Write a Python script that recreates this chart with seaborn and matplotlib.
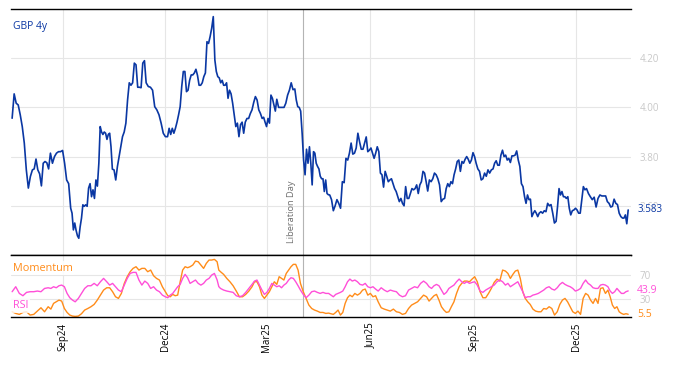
import matplotlib
matplotlib.use("Agg")
import matplotlib.pyplot as plt
import matplotlib.dates as mdates
import seaborn as sns
import pandas as pd

sns.set_style("white")
plt.rcParams["font.family"] = ["Open Sans", "DejaVu Sans"]

# GBP 4y swap rate; each row starts on the date in gbp_row_start
gbp_row_start = [
    "2024-07-18", "2024-08-05", "2024-08-21", "2024-09-08", "2024-09-20",
    "2024-10-03", "2024-10-15", "2024-10-30", "2024-11-14", "2024-12-03",
    "2024-12-17", "2024-12-31", "2025-01-14", "2025-01-27", "2025-02-10",
    "2025-02-25", "2025-03-10", "2025-03-26", "2025-04-08", "2025-04-20",
    "2025-04-26", "2025-05-12", "2025-05-27", "2025-06-10", "2025-06-24",
    "2025-07-08", "2025-07-22", "2025-08-06", "2025-08-20", "2025-09-03",
    "2025-09-18", "2025-10-02", "2025-10-16", "2025-10-29", "2025-11-13",
    "2025-11-26", "2025-12-10", "2025-12-27", "2026-01-11",
]
gbp_end = "2026-01-16"
gbp_rows = [
    [3.956, 4.055, 4.017, 4.01, 3.97, 3.922, 3.855, 3.746, 3.672, 3.719],
    [3.746, 3.75, 3.79, 3.746, 3.73, 3.681, 3.773, 3.78, 3.775, 3.75],
    [3.814, 3.773, 3.80, 3.814, 3.82, 3.82, 3.825, 3.773, 3.705, 3.69],
    [3.59, 3.57, 3.502, 3.53, 3.50, 3.478, 3.468, 3.515, 3.55, 3.604],
    [3.598, 3.604, 3.598, 3.672, 3.69, 3.637, 3.665, 3.63, 3.705, 3.68],
    [3.773, 3.922, 3.90, 3.89, 3.90, 3.895, 3.87, 3.89, 3.895, 3.84],
    [3.749, 3.746, 3.705, 3.76, 3.80, 3.84, 3.881, 3.90, 3.936, 4.03],
    [4.10, 4.09, 4.10, 4.18, 4.173, 4.082, 4.082, 4.08, 4.18, 4.19],
    [4.10, 4.085, 4.082, 4.07, 4.003, 3.99, 3.97, 3.936, 3.895, 3.881],
    [3.881, 3.915, 3.89, 3.915, 3.895, 3.915, 3.94, 3.97, 4.003, 4.085],
    [4.146, 4.146, 4.064, 4.07, 4.11, 4.132, 4.132, 4.14, 4.155, 4.13],
    [4.09, 4.09, 4.10, 4.125, 4.14, 4.267, 4.26, 4.288, 4.322, 4.369],
    [4.193, 4.146, 4.125, 4.12, 4.10, 4.11, 4.09, 4.09, 4.10, 4.037],
    [4.07, 4.055, 4.017, 3.97, 3.922, 3.936, 3.881, 3.93, 3.94, 3.895],
    [3.94, 3.955, 3.955, 3.975, 3.99, 4.02, 4.044, 4.03, 3.99, 3.975],
    [3.955, 3.96, 3.94, 3.922, 3.955, 3.936, 4.05, 4.037, 4.01, 3.985],
    [4.033, 4.00, 4.00, 4.00, 4.00, 4.017, 4.05, 4.07, 4.10, 4.072],
    [4.075, 4.03, 4.003, 4.00, 3.985, 3.895, 3.786, 3.726, 3.83, 3.773],
    [3.84, 3.773, 3.685, 3.82, 3.814, 3.773, 3.76, 3.75, 3.72, 3.71],
    [3.71, 3.658, 3.705, 3.65, 3.645],
    [3.644, 3.625, 3.58, 3.60, 3.625, 3.61, 3.59, 3.698, 3.694, 3.793],
    [3.786, 3.814, 3.855, 3.81, 3.814, 3.835, 3.895, 3.86, 3.83, 3.83],
    [3.855, 3.88, 3.82, 3.826, 3.835, 3.814, 3.793, 3.814, 3.84, 3.82],
    [3.733, 3.726, 3.676, 3.74, 3.72, 3.698, 3.705, 3.71, 3.69, 3.67],
    [3.658, 3.637, 3.617, 3.63, 3.61, 3.60, 3.678, 3.63, 3.63, 3.65],
    [3.67, 3.665, 3.67, 3.685, 3.65, 3.685, 3.698, 3.74, 3.733, 3.698],
    [3.66, 3.705, 3.698, 3.71, 3.733, 3.726, 3.71, 3.685, 3.617, 3.627],
    [3.63, 3.67, 3.69, 3.678, 3.698, 3.69, 3.726, 3.75, 3.78, 3.786],
    [3.74, 3.78, 3.773, 3.789, 3.80, 3.789, 3.773, 3.786, 3.816, 3.80],
    [3.773, 3.75, 3.74, 3.705, 3.71, 3.733, 3.72, 3.746, 3.733, 3.746],
    [3.75, 3.773, 3.783, 3.765, 3.765, 3.806, 3.826, 3.80, 3.806, 3.786],
    [3.793, 3.776, 3.803, 3.803, 3.806, 3.823, 3.786, 3.76, 3.69, 3.678],
    [3.637, 3.61, 3.644, 3.625, 3.627, 3.556, 3.57, 3.58, 3.57, 3.556],
    [3.57, 3.576, 3.57, 3.58, 3.576, 3.61, 3.60, 3.605, 3.57, 3.53],
    [3.537, 3.598, 3.67, 3.644, 3.658, 3.637, 3.637, 3.63, 3.637, 3.59],
    [3.563, 3.58, 3.583, 3.59, 3.583, 3.57, 3.57, 3.625, 3.678, 3.665],
    [3.67, 3.65, 3.637, 3.625, 3.635, 3.595, 3.63, 3.644, 3.64, 3.64],
    [3.64, 3.617, 3.61, 3.595, 3.598, 3.627, 3.61, 3.605, 3.57, 3.556],
    [3.55, 3.55, 3.563, 3.527, 3.583],
]

# oscillators; each row starts on the date in osc_row_start
osc_row_start = [
    "2024-07-18", "2024-08-19", "2024-09-12", "2024-10-10", "2024-11-05",
    "2024-12-01", "2024-12-23", "2025-01-16",
    "2025-01-19", "2025-02-16", "2025-03-10", "2025-03-31", "2025-04-25",
    "2025-05-16", "2025-06-08", "2025-07-05",
    "2025-07-21", "2025-08-12", "2025-09-04", "2025-09-29", "2025-10-21",
    "2025-11-14", "2025-12-07", "2025-12-29",
]
osc_end = "2026-01-16"
momentum_rows = [
    [9.6, 6.9, 5.3, 8.5, 9.6, 4.2, 5.3, 10.7, 16.2, 9.6],
    [17.9, 14, 23.4, 26, 28.8, 27.2, 15, 8.5, 4.2, 2.5],
    [2, 2.5, 6.4, 12.4, 15, 17.9, 21.7, 28.8, 37, 45.3],
    [49.1, 49.1, 42.6, 34.3, 31.6, 39.8, 56.3, 67.3, 75.5, 81],
    [83.7, 78.2, 81, 81, 75.5, 78.2, 68.9, 64.5, 61.8, 50.8],
    [42.6, 36, 34.3, 38.2, 36, 37, 59, 78.2, 83.7, 82.1],
    [83.7, 86.5, 93, 91.9, 86.5, 81, 89.2, 94.7, 94.7, 95.8],
    [91.9, 78.2],
    [75.5, 71.1, 64.5, 59, 52.4, 43.7, 34.3, 34.3, 38.2, 43.7],
    [50.8, 59, 59, 50.8, 37, 31.6, 37, 42.6, 50.8, 59],
    [54.6, 67.3, 64.5, 61.8, 72.7, 78.2, 83.7, 87.6, 87.6, 78.2],
    [56.3, 42.6, 31.6, 20.6, 15, 12.4, 10.7, 8.5, 8.5, 6.9],
    [7.4, 6.4, 5.3, 8.5, 12.4, 4.2, 8.5, 23.4, 32.7, 37],
    [34.3, 39.8, 37, 39.8, 45.3, 47, 37, 39.8, 34.3, 36],
    [26, 16.2, 14, 12.4, 10.7, 14, 9.6, 8.5, 5.3, 6.9],
    [15, 20.6, 23.4, 26, 31.6, 37],
    [34.3, 27.2, 31.6, 36, 38.2, 28.8, 17.9, 12.4, 8.5, 9.6],
    [17.9, 26, 39.8, 50.8, 56.3, 60.1, 60.1, 59, 63.4, 67.3],
    [59, 42.6, 32.7, 32.7, 39.8, 48, 57.9, 63.4, 60.1, 78.2],
    [76.6, 72.7, 64.5, 71.1, 76.6, 78.2, 64.5, 42.6, 31.6, 26],
    [21.7, 14, 10.7, 9.6, 9.6, 15, 14, 17.9, 15, 4.2],
    [9.6, 21.7, 28.8, 31.6, 26, 17.9, 9.6, 6.9, 10.7, 5.3],
    [31.6, 39.8, 37, 28.8, 23.4, 31.6, 23.4, 48, 49.1, 39.8],
    [45.3, 34.3, 20.6, 15, 17.9, 9.6, 6.9, 5.3, 6.4, 5.5],
]
rsi_rows = [
    [42.6, 50.8, 39.8, 36, 41.5, 42.6, 42.6, 43.7, 42.6, 48],
    [49.1, 48, 50.8, 49.1, 52.4, 53.5, 50.8, 39.8, 32.7, 28.8],
    [26, 31.6, 39.8, 48, 52.4, 52.4, 56.3, 52.4, 59, 64.5],
    [59, 53.5, 56.3, 50.8, 45.3, 42.6, 53.5, 64.5, 72.7, 74.4],
    [74.4, 61.8, 53.5, 60.1, 56.3, 48, 50.8, 45.3, 42.6, 37],
    [34.3, 32.7, 37, 39.8, 45.3, 50.8, 54.6, 64.5, 71.1, 65.6],
    [56.3, 59, 61.8, 56.3, 53.5, 56.3, 61.8, 64.5, 70, 72.7],
    [62, 51],
    [48, 45.3, 43.7, 42.6, 41.5, 36, 34.3, 36, 41.5, 48],
    [54.6, 60.1, 61.8, 53.5, 45.3, 38.2, 41.5, 48, 56.3, 53.5],
    [50.8, 52.4, 49.1, 53.5, 56.3, 61.8, 65.6, 64.5, 59, 52.4],
    [45.3, 38.2, 32.7, 37, 42.6, 43.7, 41.5, 39.8, 41.5, 39.8],
    [39.8, 37, 34.3, 38.2, 39.8, 41.5, 43.7, 50.8, 59, 63.4],
    [60.1, 61.8, 59, 54.6, 53.5, 56.3, 50.8, 49.1, 50.8, 47],
    [43.7, 49.1, 45.3, 42.6, 45.3, 43.7, 42.6, 37, 34.3, 36],
    [45.3, 48, 50.8, 49.1, 56.3, 60.1],
    [56.3, 50.8, 48, 52.4, 54.6, 52.4, 45.3, 38.2, 41.5, 48],
    [50.8, 53.5, 59, 63.4, 59, 56.3, 59, 56.3, 57.9, 59],
    [53.5, 43.7, 41.5, 45.3, 48, 50.8, 53.5, 59, 61.8, 59],
    [53.5, 56.3, 50.8, 53.5, 56.3, 59, 50.8, 42.6, 32.7, 34.3],
    [34.3, 37, 38.2, 39.8, 42.6, 45.3, 49.1, 50.8, 47, 45.3],
    [49.1, 54.6, 57.9, 54.6, 52.4, 50.8, 48, 43.7, 45.3, 48],
    [56.3, 61.8, 56.3, 53.5, 49.1, 48, 48, 53.5, 54.6, 53.5],
    [50.8, 43.7, 39.8, 42.6, 48, 43.7, 39.8, 39.8, 42.6, 43.9],
]

tick_dates = ["2024-09-01", "2024-12-01", "2025-03-01", "2025-06-01", "2025-09-01", "2025-12-01"]
lib_day = pd.Timestamp("2025-04-02")

BLUE = "#0a37a3"
ORANGE = "#ff8c1a"
PINK = "#ff4fd8"
GRID = "#e6e6e6"
LABEL = "#c8c8c8"


def row_dates(starts, end, rows):
    # spread each row's readings between its start and the next row's start
    bounds = list(starts) + [end]
    out = pd.DatetimeIndex([])
    for i, r in enumerate(rows):
        last = i == len(rows) - 1
        rng = pd.date_range(bounds[i], bounds[i + 1], periods=len(r) if last else len(r) + 1)
        out = out.append(rng if last else rng[:-1])
    return out


gbp_4y = [v for r in gbp_rows for v in r]
momentum = [v for r in momentum_rows for v in r]
rsi = [v for r in rsi_rows for v in r]
dates = row_dates(gbp_row_start, gbp_end, gbp_rows)
osc_dates = row_dates(osc_row_start, osc_end, momentum_rows)

fig = plt.figure(figsize=(6.74, 3.66), dpi=100)
ax = fig.add_axes([11 / 674, 1 - 255 / 366, 620 / 674, 246 / 366])
ax2 = fig.add_axes([11 / 674, 1 - 317 / 366, 620 / 674, 62 / 366], sharex=ax)

sns.lineplot(x=dates, y=gbp_4y, ax=ax, color=BLUE, linewidth=1.2)
sns.lineplot(x=osc_dates, y=momentum, ax=ax2, color=ORANGE, linewidth=1.0)
sns.lineplot(x=osc_dates, y=rsi, ax=ax2, color=PINK, linewidth=1.0)

ticks = pd.to_datetime(tick_dates)
ax.set_xlim(pd.Timestamp("2024-07-17"), pd.Timestamp("2026-01-18 12:00"))
for a in (ax, ax2):
    a.set_xticks(ticks)
    a.xaxis.set_major_formatter(mdates.DateFormatter("%b%y"))
    a.grid(True, color=GRID, linewidth=0.8)
    a.set_axisbelow(True)
    a.yaxis.tick_right()
    a.tick_params(axis="y", length=0, labelcolor=LABEL, labelsize=7, pad=6)
    a.tick_params(axis="x", direction="in", length=5, width=1, color="black")
    for side in ("left", "right"):
        a.spines[side].set_visible(False)
    for side in ("top", "bottom"):
        a.spines[side].set_color("black")
        a.spines[side].set_linewidth(1.0)
    a.set_xlabel("")
    a.set_ylabel("")
    a.axvline(lib_day, color="#b4b4b4", linewidth=0.8, zorder=1)

ax.tick_params(axis="x", labelbottom=False)
ax.set_ylim(3.40, 4.40)
ax.set_yticks([3.6, 3.8, 4.0, 4.2])
ax.set_yticklabels(["3.60", "3.80", "4.00", "4.20"])
ax.text(0.004, 0.93, "GBP 4y", transform=ax.transAxes, color=BLUE, fontsize=7.5, va="center", ha="left")
ax.annotate("3.583", xy=(1, gbp_4y[-1]), xycoords=("axes fraction", "data"), xytext=(4.5, 0),
            textcoords="offset points", color=BLUE, fontsize=7, va="center", ha="left",
            bbox=dict(boxstyle="square,pad=0.1", fc="white", ec="none", alpha=0.6))
ax.annotate("Liberation Day", xy=(lib_day, 0.048), xycoords=("data", "axes fraction"), xytext=(-5, 0),
            textcoords="offset points", rotation=90, ha="right", va="bottom", fontsize=6.7, color="#707070")

ax2.set_ylim(1, 103)
ax2.set_yticks([30, 70])
ax2.tick_params(axis="x", labelsize=7, rotation=90, labelcolor="black", pad=4)
ax2.text(0.003, 0.79, "Momentum", transform=ax2.transAxes, color=ORANGE, fontsize=7.8, va="center", ha="left",
         bbox=dict(boxstyle="square,pad=0.15", fc="white", ec="none", alpha=0.85))
ax2.text(0.003, 0.18, "RSI", transform=ax2.transAxes, color=PINK, fontsize=7.8, va="center", ha="left",
         bbox=dict(boxstyle="square,pad=0.15", fc="white", ec="none", alpha=0.8))
ax2.annotate("43.9", xy=(1, rsi[-1]), xycoords=("axes fraction", "data"), xytext=(4.5, 0),
             textcoords="offset points", color=PINK, fontsize=7.5, va="center", ha="left")
ax2.annotate("5.5", xy=(1, momentum[-1]), xycoords=("axes fraction", "data"), xytext=(4.5, 0),
             textcoords="offset points", color=ORANGE, fontsize=7.5, va="center", ha="left")

fig.savefig("out.png", dpi=100)
